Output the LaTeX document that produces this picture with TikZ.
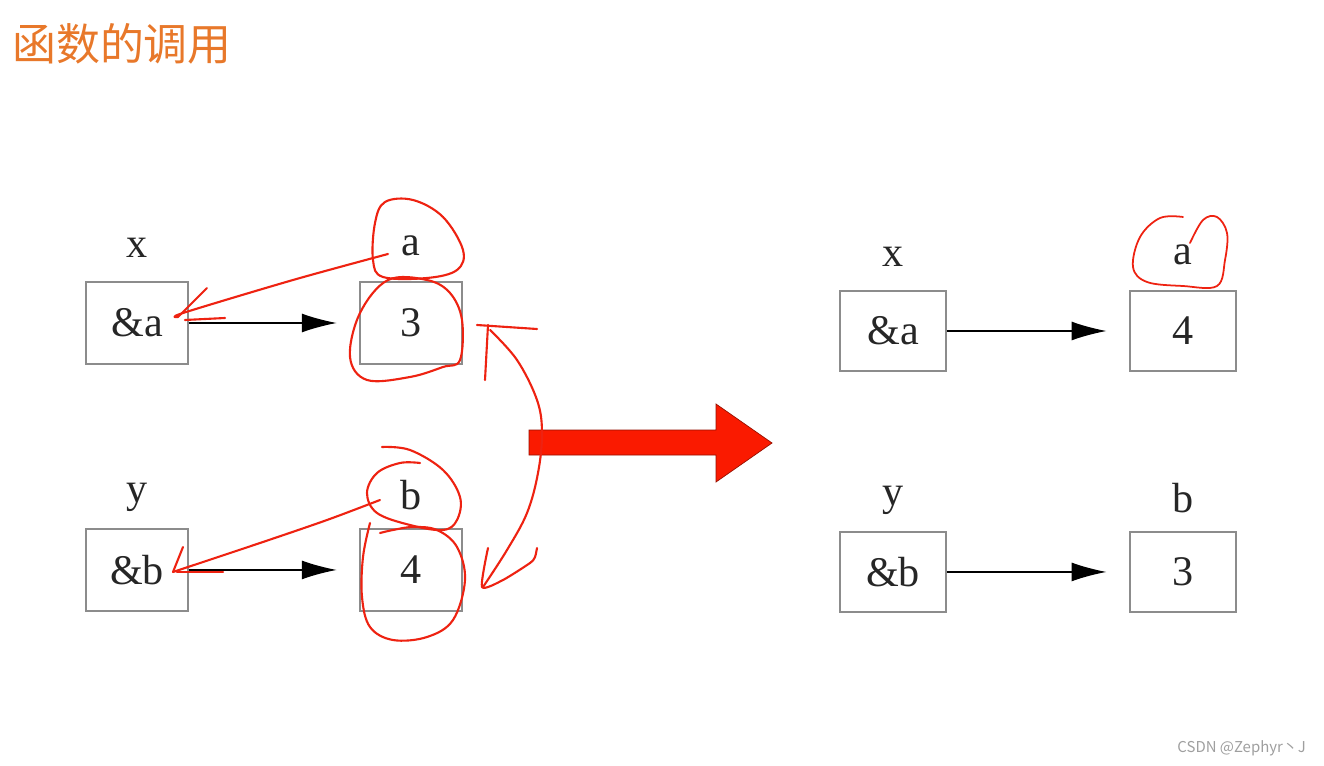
\documentclass[tikz,border=0pt]{standalone}
\usepackage{fontspec}
\setmainfont{Liberation Serif}
\newfontfamily\cjkfont{Noto Sans CJK SC}
\usetikzlibrary{positioning,arrows.meta}
\definecolor{inkred}{HTML}{EE2211}
\definecolor{arrowred}{HTML}{FA1A00}
\definecolor{titleorange}{HTML}{E8782A}

\begin{document}
\begin{tikzpicture}[x=0.02cm,y=-0.02cm,on grid,
  cell/.style={draw=gray!90,line width=1.1pt,minimum width=2.03cm,minimum height=1.63cm,
    font=\fontsize{24}{28}\selectfont,text=black!85},
  var/.style={font=\fontsize{24}{28}\selectfont,text=black!85},
  ptr/.style={-{Latex[length=0.7cm,width=0.38cm]},line width=0.7pt,shorten >=0.45cm},
  ink/.style={draw=inkred,line width=1.2pt,line cap=round,line join=round}]
  \useasboundingbox[fill=white] (0,0) rectangle (1324,766);

  \node[anchor=west,text=titleorange,font=\cjkfont\fontsize{25}{30}\selectfont] (title) at (6,44) {函数的调用};

  \node[cell] (xa) at (137,323) {\&a};
  \node[cell] (va) [right=5.48cm of xa] {3};
  \node[cell] (yb) [below=4.94cm of xa] {\&b};
  \node[cell] (vb) [right=5.48cm of yb] {4};
  \node[var] (x) [above=1.5cm of xa] {x};
  \node[var] (a) [above=1.55cm of va] {a};
  \node[var] (y) [above=1.45cm of yb] {y};
  \node[var] (b) [above=1.5cm of vb] {b};
  \draw[ptr] (xa) -- (va);
  \draw[ptr] (yb) -- (vb);

  \node[cell,minimum width=2.12cm,minimum height=1.6cm] (xa2) at (893,331) {\&a};
  \node[cell,minimum width=2.12cm,minimum height=1.6cm] (va2) [right=5.8cm of xa2] {4};
  \node[cell,minimum width=2.12cm,minimum height=1.6cm] (yb2) [below=4.82cm of xa2] {\&b};
  \node[cell,minimum width=2.12cm,minimum height=1.6cm] (vb2) [right=5.8cm of yb2] {3};
  \node[var] (x2) [above=1.48cm of xa2] {x};
  \node[var] (a2) [above=1.52cm of va2] {a};
  \node[var] (y2) [above=1.44cm of yb2] {y};
  \node[var] (b2) [above=1.48cm of vb2] {b};
  \draw[ptr] (xa2) -- (va2);
  \draw[ptr] (yb2) -- (vb2);

  \draw[fill=arrowred,draw=arrowred!60!black,line width=0.4pt]
    (529,430) -- (716,430) -- (716,404) -- (772,443) -- (716,482) -- (716,455) -- (529,455) -- cycle;

  \draw[ink] plot[smooth cycle,tension=0.6] coordinates {(385,202) (413,200) (443,217) (463,250)
    (457,270) (427,278) (383,277) (373,260) (375,223)};
  \draw[ink] plot[smooth cycle,tension=0.6] coordinates {(388,280) (360,313) (350,357) (367,380)
    (410,377) (443,367) (460,360) (462,320) (450,293) (427,280)};
  \draw[ink] plot[smooth,tension=0.5] coordinates {(388,254) (293,280) (183,313) (178,317)};
  \draw[ink] (207,288) -- (178,317);
  \draw[ink] (185,320) -- (225,318);

  \draw[ink] plot[smooth,tension=0.6] coordinates {(382,447) (410,450) (443,470) (460,497) (457,520)
    (443,530) (410,525) (377,513) (367,493) (377,473) (400,463) (420,463)};
  \draw[ink] plot[smooth,tension=0.6] coordinates {(370,523) (363,557) (362,597) (370,627) (393,640)
    (427,637) (453,620) (465,580) (457,547) (437,530) (413,527) (393,530) (380,533)};
  \draw[ink] plot[smooth,tension=0.5] coordinates {(380,500) (327,520) (260,543) (173,572)};
  \draw[ink] (183,547) -- (173,572);
  \draw[ink] (177,572) -- (223,572);

  \draw[ink] plot[smooth,tension=0.6] coordinates {(490,330) (517,360) (537,400) (542,433)
    (538,473) (527,513) (507,550) (483,587)};
  \draw[ink] (485,380) -- (488,325);
  \draw[ink] (477,325) -- (537,329);
  \draw[ink] plot[smooth,tension=0.4] coordinates {(488,548) (482,587) (503,580) (530,563) (535,557) (537,548)};

  \draw[ink,line width=1pt] plot[smooth,tension=0.6] coordinates {(1183,217) (1160,218) (1140,237)
    (1133,267) (1147,282) (1183,286) (1217,286) (1225,260) (1227,233) (1217,217) (1203,220) (1190,243)};

  \node[anchor=east,text=gray!75,font=\cjkfont\fontsize{8.5}{10}\selectfont] (mark) at (1312,748) {CSDN @Zephyr丶J};
\end{tikzpicture}
\end{document}
